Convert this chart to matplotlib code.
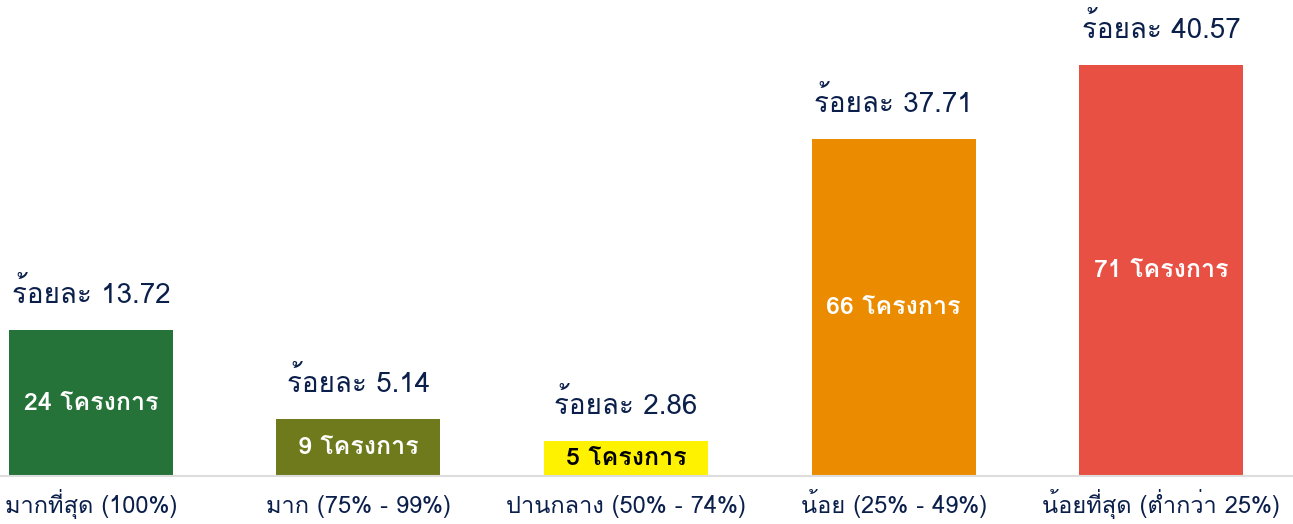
import numpy as np
import matplotlib
matplotlib.use("Agg")
from matplotlib import pyplot as plt
from matplotlib import font_manager
from matplotlib.ft2font import FT2Font

# data
categories = ["มากที่สุด (100%)", "มาก (75% - 99%)", "ปานกลาง (50% - 74%)",
              "น้อย (25% - 49%)", "น้อยที่สุด (ต่ำกว่า 25%)"]
projects = [24, 9, 5, 66, 71]
percent = [13.72, 5.14, 2.86, 37.71, 40.57]
bar_height = [14.6, 5.7, 3.5, 33.7, 41.1]   # drawn heights, not linear in percent
colors = ["#267339", "#6f7a1d", "#fff200", "#eb8c00", "#e95044"]
inner_text_color = ["white", "white", "black", "white", "white"]

# find an installed family that can draw Thai
thai_family = None
for f in font_manager.fontManager.ttflist:
    try:
        if FT2Font(f.fname).get_char_index(ord("ก")):
            thai_family = f.name
            break
    except Exception:
        pass
families = ([thai_family] if thai_family else []) + ["DejaVu Sans"]
plt.rcParams["font.family"] = families

navy = "#0b1f4b"

fig = plt.figure(figsize=(12.93, 5.24), dpi=100)
ax = fig.add_axes([0, 48 / 524, 1, 476 / 524])
x = np.arange(len(categories))
ax.bar(x, bar_height, width=0.613, color=colors, zorder=2)

for i in range(len(x)):
    ax.text(x[i], bar_height[i] + 2.7, "ร้อยละ {:.2f}".format(percent[i]),
            ha="center", va="baseline", fontsize=20, color=navy)
    ax.text(x[i], bar_height[i] / 2, "{} โครงการ".format(projects[i]),
            ha="center", va="center", fontsize=18, fontweight="bold",
            color=inner_text_color[i])
    # category labels on a common baseline (tick labels jump with Thai marks)
    ax.text(x[i], -3.7, categories[i], ha="center", va="baseline",
            fontsize=17, color=navy, clip_on=False)

ax.set_xlim(-0.34, 4.493)
ax.set_ylim(0, 47.6)
ax.set_xticks([])
ax.set_yticks([])
for s in ["top", "right", "left"]:
    ax.spines[s].set_visible(False)
ax.spines["bottom"].set_color("#dddddd")
ax.spines["bottom"].set_linewidth(1.5)

fig.savefig("out.png", dpi=100)
